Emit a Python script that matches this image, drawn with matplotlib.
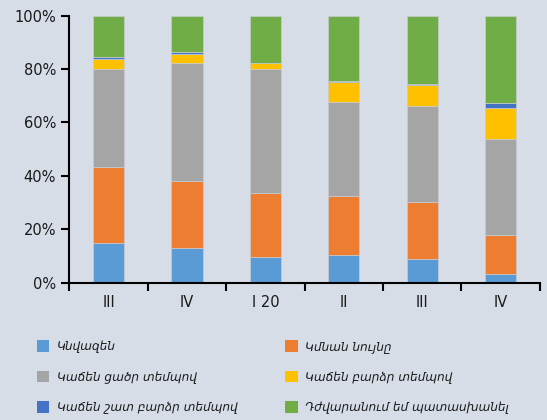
import matplotlib
matplotlib.use("Agg")
import matplotlib.pyplot as plt
import numpy as np
from matplotlib.patches import Patch
from matplotlib.ticker import FuncFormatter, FixedLocator

BG = "#d6dde7"

quarters = ["III", "IV", "I 20", "II", "III", "IV"]
series_names = [
    "Կնվազեն",
    "Կմնան նույնը",
    "Կաճեն ցածր տեմպով",
    "Կաճեն բարձր տեմպով",
    "Կաճեն շատ բարձր տեմպով",
    "Դժվարանում եմ պատասխանել",
]
colors = ["#5b9bd5", "#ed7d31", "#a5a5a5", "#ffc000", "#4472c4", "#70ad47"]

# shares of responses, %
decrease = [14.8, 13.1, 9.7, 10.3, 9.0, 3.4]
same = [28.6, 25.1, 23.8, 22.3, 21.3, 14.6]
grow_low = [36.6, 44.2, 46.5, 35.2, 36.0, 35.7]
grow_high = [3.7, 3.3, 2.4, 7.3, 7.7, 11.6]
grow_very_high = [0.9, 0.8, 0.0, 0.6, 0.5, 2.1]
hard_to_say = [15.4, 13.5, 17.6, 24.3, 25.5, 32.6]

values = [decrease, same, grow_low, grow_high, grow_very_high, hard_to_say]

fig = plt.figure(figsize=(5.47, 4.2), dpi=100)
fig.patch.set_facecolor(BG)
ax = fig.add_axes([0.1267, 0.327, 0.8603, 0.6356])
ax.set_facecolor(BG)

x = np.arange(len(quarters))
bottom = np.zeros(len(quarters))
for vals, col in zip(values, colors):
    vals = np.array(vals)
    ax.bar(x, vals, 0.4, bottom=bottom, color=col,
           edgecolor="#c8ccd2", linewidth=0.5)
    bottom += vals

ax.set_xlim(-0.5, len(quarters) - 0.5)
ax.set_ylim(0, 100)
ax.set_yticks(np.arange(0, 101, 20))
ax.yaxis.set_major_formatter(FuncFormatter(lambda v, p: f"{v:.0f}%"))
ax.set_xticks(x)
ax.set_xticklabels(quarters)
ax.xaxis.set_minor_locator(FixedLocator(np.arange(-0.5, len(quarters), 1.0)))
ax.tick_params(axis="x", which="major", length=0, pad=9, labelsize=10.5,
               colors="#1a1a1a")
ax.tick_params(axis="x", which="minor", length=6, width=1.5, direction="out",
               color="black")
ax.tick_params(axis="y", length=6, width=1.5, direction="out",
               labelsize=10.5, colors="#1a1a1a")
ax.tick_params(axis="y", color="black")

for side in ("top", "right"):
    ax.spines[side].set_visible(False)
for side in ("left", "bottom"):
    ax.spines[side].set_linewidth(1.5)
    ax.spines[side].set_color("black")

# legend reads row by row, so feed the two columns in that order
handles = [Patch(facecolor=c, edgecolor="none") for c in colors]
order = [0, 2, 4, 1, 3, 5]
leg = fig.legend([handles[i] for i in order], [series_names[i] for i in order],
                 ncol=2, loc="upper left", bbox_to_anchor=(0.047, 0.216),
                 frameon=False, handlelength=1.05, handleheight=1.05,
                 handletextpad=0.6, labelspacing=1.45, columnspacing=4.0,
                 prop={"family": "DejaVu Sans", "style": "italic", "size": 8.7})
for t in leg.get_texts():
    t.set_color("#1a1a1a")

fig.savefig("out.png", dpi=100, facecolor=BG)
